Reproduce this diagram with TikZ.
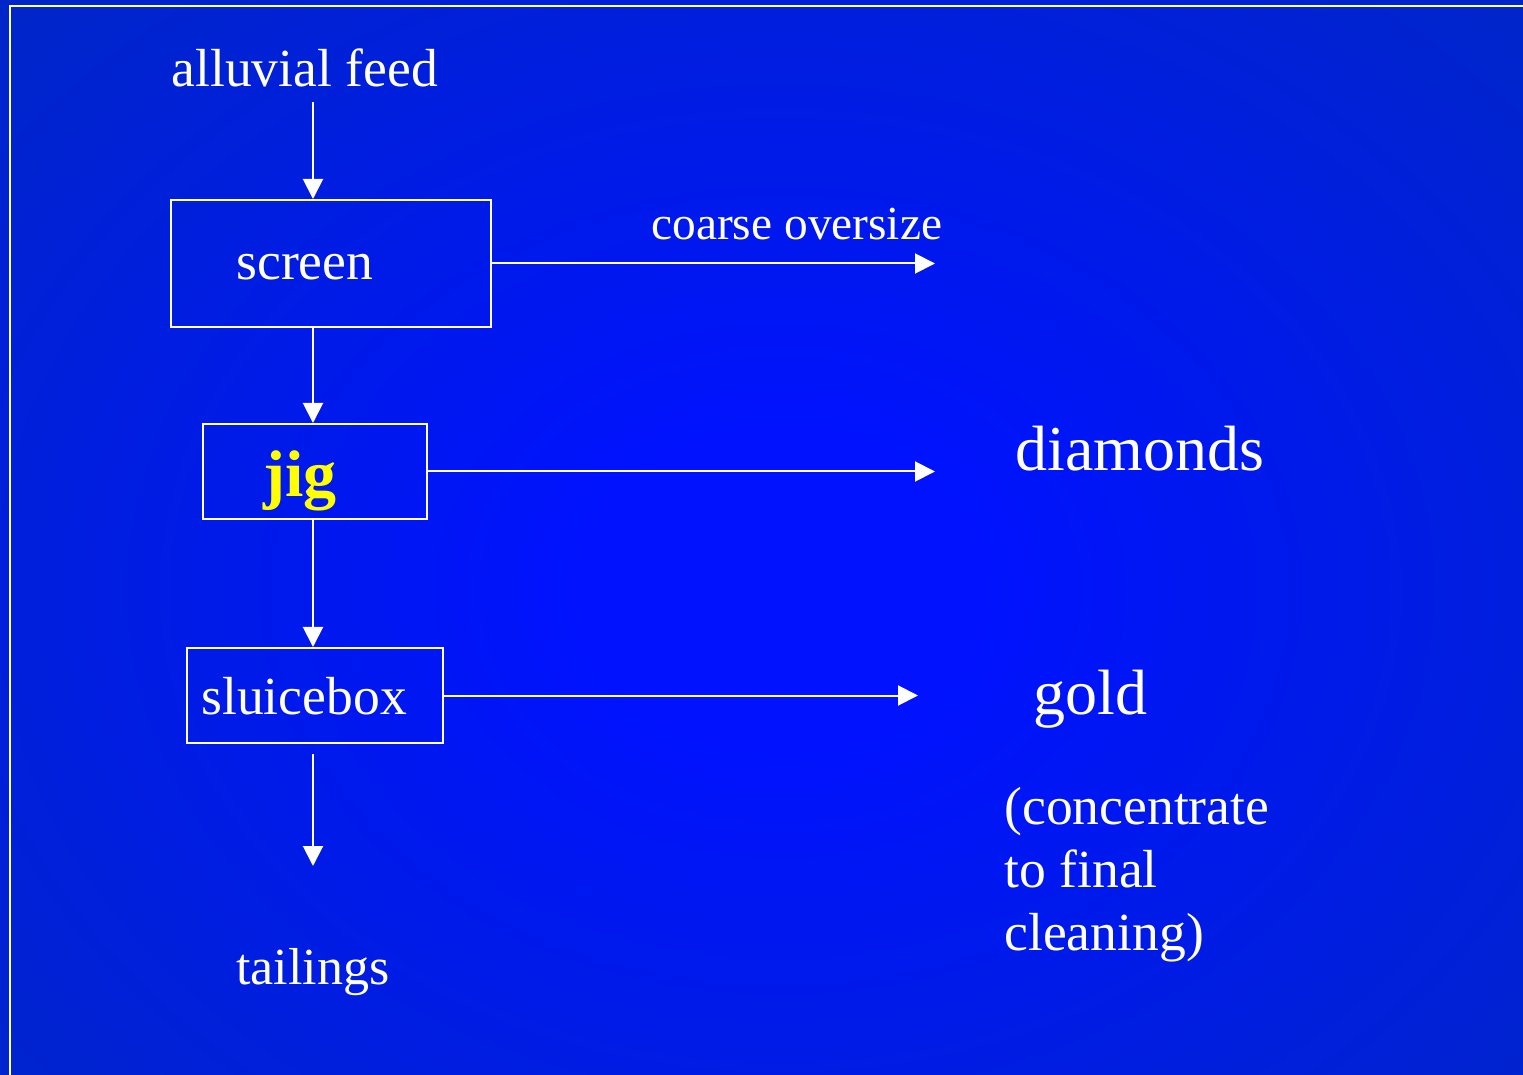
\documentclass[tikz,border=0pt]{standalone}
\usepackage{fontspec}
\setmainfont{Liberation Serif}
\usetikzlibrary{arrows.meta,calc}

\definecolor{bginner}{RGB}{0,18,255}
\definecolor{bgouter}{RGB}{0,50,168}
\definecolor{jigyellow}{RGB}{255,255,0}

% soft glow of the slide background, brightest at its centre
\pgfdeclareradialshading{slideglow}{\pgfpoint{0bp}{0bp}}{%
  color(0bp)=(bginner); color(6bp)=(bginner);
  color(50bp)=(bgouter); color(80bp)=(bgouter)}

\begin{document}
\begin{tikzpicture}[x=0.5pt,y=-0.5pt,
  flow/.style={draw=white, line width=1pt, -{Triangle[length=10pt,width=10pt]}},
  unit/.style={draw=white, line width=1pt, inner sep=0pt, anchor=north west},
  lbl/.style={text=white, inner sep=0pt, anchor=base west,
              font=\fontsize{26.8}{31.5}\selectfont},
  product/.style={lbl, font=\fontsize{32}{37}\selectfont}]

\useasboundingbox (0,0) rectangle (1523,1075);
\clip (0,0) rectangle (1523,1075);
\shade[shading=slideglow] (-20,-30) rectangle (1580,1210);
\draw[white, line width=0.75pt] (10,1100) -- (10,6) -- (1540,6);

% process units
\node[unit, minimum width=160pt, minimum height=63.5pt] (screen) at (170,199) {};
\node[unit, minimum width=112pt, minimum height=47.5pt] (jig) at (202,423) {};
\node[unit, minimum width=128pt, minimum height=47.5pt] (sluice) at (186,647) {};

% unit labels
\node[lbl] (screentext) at (236,280) {screen};
\node[lbl, text=jigyellow, font=\fontsize{33}{38}\selectfont\bfseries] (jigtext) at (263,497) {jig};
\node[lbl] (sluicetext) at (201,714) {sluicebox};

% streams in and out
\node[lbl] (feed) at (171,87) {alluvial feed};
\node[lbl, font=\fontsize{23.7}{28}\selectfont] (oversize) at (651,240) {coarse oversize};
\node[product] (diamonds) at (1015,471) {diamonds};
\node[product] (gold) at (1033,714) {gold};
% the base of a multi-line node is the baseline of its last line
\node[lbl, align=left] (note) at (1004,950) {(concentrate\\to final\\cleaning)};
\node[lbl, font=\fontsize{26}{31}\selectfont] (tailings) at (236,984) {tailings};

% connector ends
\coordinate (spine) at (313,0);
\coordinate (oversizeend) at (935,263);
\coordinate (diamondend) at (935,470);
\coordinate (goldend) at (918,694);
\coordinate (tailend) at (313,866);

% main flow down the plant
\draw[flow] ($(feed.base -| spine)+(0,15)$) -- (screen.north -| spine);
\draw[flow] (screen.south -| spine) -- (jig.north -| spine);
\draw[flow] (jig.south -| spine) -- (sluice.north -| spine);
\draw[flow] ($(sluice.south -| spine)+(0,10)$) -- (tailend);

% products leaving each unit
\draw[flow] (screen.east) -- (screen.east -| oversizeend);
\draw[flow] (jig.east) -- (jig.east -| diamondend);
\draw[flow] (sluice.east) -- (sluice.east -| goldend);
\end{tikzpicture}
\end{document}
